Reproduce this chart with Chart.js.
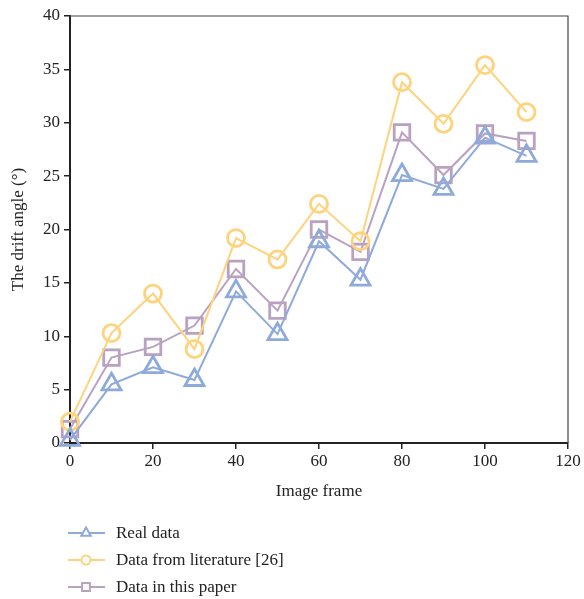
<!DOCTYPE html>
<html>
<head>
<meta charset="utf-8">
<script src="https://cdn.jsdelivr.net/npm/chart.js@4/dist/chart.umd.min.js"></script>
<style>
  html, body { margin: 0; padding: 0; background: #fff; }
  #wrap { width: 584px; height: 599px; }
</style>
</head>
<body>
<div id="wrap"><canvas id="chart" width="584" height="599"></canvas></div>
<script>
// Data
const frames = [0, 10, 20, 30, 40, 50, 60, 70, 80, 90, 100, 110];
const realData = [0.3, 5.5, 7.1, 5.9, 14.2, 10.2, 18.9, 15.3, 25.1, 23.8, 28.6, 26.9];
const literatureData = [2.0, 10.3, 14.0, 8.8, 19.2, 17.2, 22.4, 18.9, 33.8, 29.9, 35.4, 31.0];
const paperData = [1.3, 8.0, 9.0, 11.0, 16.3, 12.4, 20.0, 17.9, 29.1, 25.1, 29.0, 28.3];
const seriesNames = ['Real data', 'Data from literature [26]', 'Data in this paper'];
const xTicks = [0, 20, 40, 60, 80, 100, 120];
const yTicks = [0, 5, 10, 15, 20, 25, 30, 35, 40];

const FONT = "'Liberation Serif', 'DejaVu Serif', serif";
const TEXT = '#222';

function toPoints(values) {
    return frames.map((f, i) => ({ x: f, y: values[i] }));
}

function makeSet(label, values, color, style, radius) {
    return {
        label: label,
        data: toPoints(values),
        borderColor: color,
        backgroundColor: '#fff',
        borderWidth: 2,
        pointStyle: style,
        pointRadius: radius,
        pointBorderWidth: 2.8,
        pointBorderColor: color,
        pointBackgroundColor: 'rgba(255,255,255,0)',
        tension: 0,
        fill: false
    };
}

// thin frame on top/right plus the legend under the axis title
const framePlugin = {
    id: 'frame',
    beforeDatasetsDraw(chart) {
        const { ctx, chartArea } = chart;
        ctx.save();
        ctx.strokeStyle = '#444';
        ctx.lineWidth = 1.2;
        ctx.beginPath();
        ctx.moveTo(chartArea.left, chartArea.top);
        ctx.lineTo(chartArea.right, chartArea.top);
        ctx.lineTo(chartArea.right, chartArea.bottom);
        ctx.stroke();
        ctx.restore();
    },
    afterDraw(chart) {
        const ctx = chart.ctx;
        const rows = [533, 560, 587];
        ctx.save();
        chart.data.datasets.forEach((ds, i) => {
            const y = rows[i];
            ctx.strokeStyle = ds.borderColor;
            ctx.lineWidth = 2;
            ctx.beginPath();
            ctx.moveTo(68, y);
            ctx.lineTo(105, y);
            ctx.stroke();
            ctx.fillStyle = '#fff';
            Chart.helpers.drawPoint(ctx, { pointStyle: ds.pointStyle, radius: ds.pointStyle === 'circle' ? 4.5 : 5.5, borderWidth: 2.2 }, 86, y);
            ctx.fillStyle = TEXT;
            ctx.font = '17px ' + FONT;
            ctx.textBaseline = 'middle';
            ctx.textAlign = 'left';
            ctx.fillText(ds.label, 116, y + 1);
        });
        ctx.restore();
    }
};

new Chart(document.getElementById('chart'), {
    type: 'line',
    data: {
        datasets: [
            makeSet(seriesNames[0], realData, '#8eaadb', 'triangle', 11),
            makeSet(seriesNames[1], literatureData, '#ffd27c', 'circle', 8.5),
            makeSet(seriesNames[2], paperData, '#b9a1c2', 'rect', 11)
        ]
    },
    options: {
        responsive: false,
        animation: false,
        clip: false,
        layout: { padding: { top: 16, right: 16, left: 0, bottom: 97 } },
        plugins: {
            legend: { display: false },
            tooltip: { enabled: false }
        },
        scales: {
            x: {
                type: 'linear',
                min: 0,
                max: 120,
                afterBuildTicks: s => { s.ticks = xTicks.map(v => ({ value: v })); },
                afterFit: s => { s.height = 59; },
                grid: { drawOnChartArea: false, drawTicks: true, tickLength: 6, color: TEXT, lineWidth: 1.5 },
                border: { display: true, color: TEXT, width: 2 },
                ticks: { color: TEXT, padding: 2, maxRotation: 0, font: { family: FONT, size: 17 } },
                title: { display: true, text: 'Image frame', color: TEXT, padding: 0, font: { family: FONT, size: 17 } }
            },
            y: {
                type: 'linear',
                min: 0,
                max: 40,
                afterBuildTicks: s => { s.ticks = yTicks.map(v => ({ value: v })); },
                afterFit: s => { s.width = 70; },
                grid: { drawOnChartArea: false, drawTicks: true, tickLength: 6, color: TEXT, lineWidth: 1.5 },
                border: { display: true, color: TEXT, width: 2 },
                ticks: { color: TEXT, padding: 4, font: { family: FONT, size: 17 } },
                title: { display: true, text: 'The drift angle (°)', color: TEXT, padding: { top: 8, bottom: 0 }, font: { family: FONT, size: 17 } }
            }
        }
    },
    plugins: [framePlugin]
});
</script>
</body>
</html>
